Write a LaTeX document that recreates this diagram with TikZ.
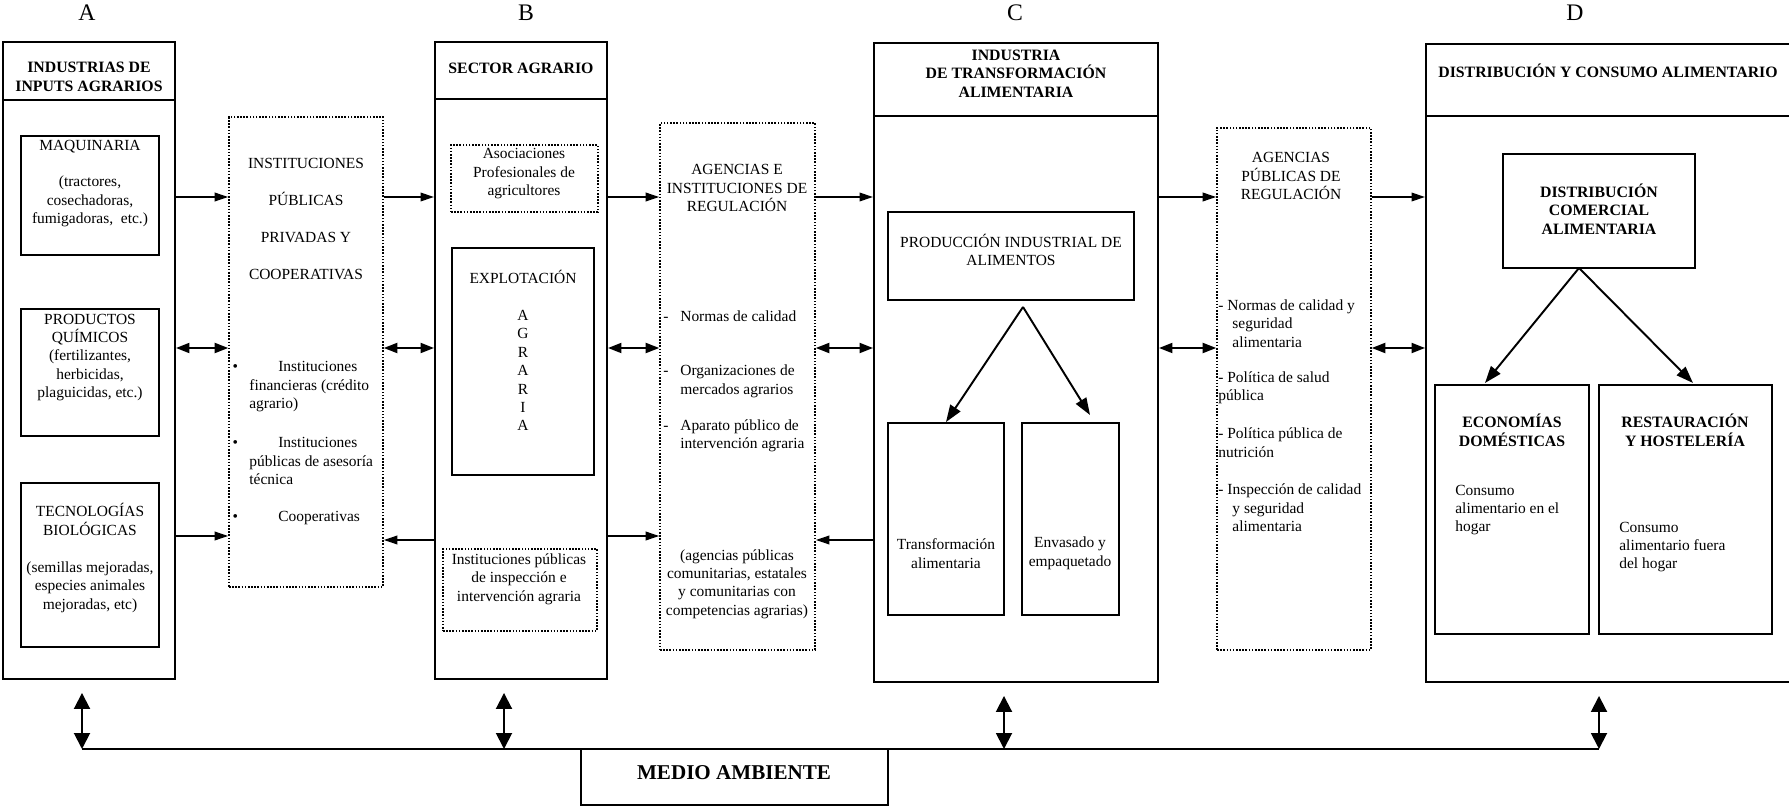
\documentclass[tikz,border=0pt]{standalone}
\usepackage{fontspec}
\setmainfont{Liberation Serif}
\usepackage{tikz}
\usetikzlibrary{positioning}
\usetikzlibrary{arrows.meta}
\usetikzlibrary{fit}
\tikzset{%
    box/.style={draw, line width=1.1pt, inner sep=0pt, fit={#1}},
    dotbox/.style={draw, line width=0.9pt, dash pattern=on 0.9pt off 0.9pt, inner sep=0pt, fit={#1}},
    txt/.style={align=center, inner sep=0pt, font=\fontsize{8.8}{10.5}\selectfont},
    ltxt/.style={align=left, anchor=west, inner sep=0pt, font=\fontsize{8.8}{10.5}\selectfont},
    head/.style={align=center, inner sep=0pt, font=\fontsize{9}{10.6}\selectfont\bfseries},
    col/.style={inner sep=0pt, font=\fontsize{13.5}{16}\selectfont},
    sep/.style={draw, line width=1.1pt},
    arrow/.style={draw, line width=1.1pt, -{Triangle[length=0.27cm, width=0.17cm]}},
    dblarrow/.style={draw, line width=1.1pt, {Triangle[length=0.27cm, width=0.2cm]}-{Triangle[length=0.27cm, width=0.2cm]}},
    vdblarrow/.style={draw, line width=1.1pt, shorten <=0.26cm, {Triangle[length=0.32cm, width=0.32cm]}-{Triangle[length=0.32cm, width=0.32cm]}},
    splitarrow/.style={draw, line width=1.1pt, -{Triangle[length=0.34cm, width=0.24cm]}}
}

\begin{document}
\begin{tikzpicture}[x=0.02cm, y=-0.02cm]
	\useasboundingbox (0,0) rectangle (1789,807);

	% column letters
	\node[col] (labA) at (87,13)   {A};
	\node[col] (labB) at (526,13)  {B};
	\node[col] (labC) at (1015,13) {C};
	\node[col] (labD) at (1575,13) {D};

	% A: industrias de inputs
	\node[box={(3,42) (175,679)}]    (inpA) {};
	\path[sep] (inpA.west |- 0,100) -- (inpA.east |- 0,100);
	\node[head] (inpT) at (89,77) {INDUSTRIAS DE\\INPUTS AGRARIOS};
	\node[box={(21,136) (159,255)}]  (maq)  {};
	\node[txt]  (maqT) at (90,183.5) {MAQUINARIA\\[10.5pt](tractores,\\cosechadoras,\\fumigadoras,\ \ etc.)};
	\node[box={(21,309) (159,436)}]  (quim) {};
	\node[txt]  (quimT) at (90,357.5) {PRODUCTOS\\QUÍMICOS\\(fertilizantes,\\herbicidas,\\plaguicidas, etc.)};
	\node[box={(21,483) (159,647)}]  (tecb) {};
	\node[txt]  (tecbT) at (90,558) {TECNOLOGÍAS\\BIOLÓGICAS\\[10.5pt](semillas mejoradas,\\especies animales\\mejoradas, etc)};

	% instituciones
	\node[dotbox={(229,117) (383,587)}] (instA) {};
	\node[txt]  (instT) at (306,219) {INSTITUCIONES\\[10.5pt]PÚBLICAS\\[10.5pt]PRIVADAS Y\\[10.5pt]COOPERATIVAS};
	\node[ltxt] (instF) at (249,387) {\leavevmode\llap{•\hspace{6.5pt}}\hspace*{16.5pt}Instituciones\\financieras (crédito\\agrario)};
	\node[ltxt] (instP) at (249,461) {\leavevmode\llap{•\hspace{6.5pt}}\hspace*{16.5pt}Instituciones\\públicas de asesoría\\técnica};
	\node[ltxt] (instC) at (249,518) {\leavevmode\llap{•\hspace{6.5pt}}\hspace*{16.5pt}Cooperativas};

	% B: sector agrario
	\node[box={(435,42) (607,679)}]  (agrB) {};
	\path[sep] (agrB.west |- 0,99) -- (agrB.east |- 0,99);
	\node[head] (agrT) at (521,68) {SECTOR AGRARIO};
	\node[dotbox={(451,145) (598,212)}] (asoc) {};
	\node[txt]  (asocT) at (524,174) {Asociaciones\\Profesionales de\\agricultores};
	\node[box={(452,248) (594,475)}] (expl) {};
	\node[txt]  (explT) at (523,350.5) {EXPLOTACIÓN\\[10.5pt]A\\G\\R\\A\\R\\I\\A};
	\node[dotbox={(443,549) (597,631)}] (insp) {};
	\node[txt]  (inspT) at (519,579) {Instituciones públicas\\de inspección e\\intervención agraria};

	% agencias e instituciones de regulacion
	\node[dotbox={(660,123) (815,650)}] (regB) {};
	\node[txt]  (regBT) at (737,188) {AGENCIAS E\\INSTITUCIONES DE\\REGULACIÓN};
	\node[ltxt] (regBN) at (680,316)   {\leavevmode\llap{-\hspace{6.8pt}}Normas de calidad};
	\node[ltxt] (regBO) at (680,381.5) {\leavevmode\llap{-\hspace{6.8pt}}Organizaciones de\\mercados agrarios};
	\node[ltxt] (regBA) at (680,436)   {\leavevmode\llap{-\hspace{6.8pt}}Aparato público de\\intervención agraria};
	\node[txt]  (regBC) at (737,584) {(agencias públicas\\comunitarias, estatales\\y comunitarias con\\competencias agrarias)};

	% C: industria de transformacion
	\node[box={(874,43) (1158,682)}] (indC) {};
	\path[sep] (indC.west |- 0,116) -- (indC.east |- 0,116);
	\node[head] (indT) at (1016,73.5) {INDUSTRIA\\DE TRANSFORMACIÓN\\ALIMENTARIA};
	\node[box={(888,212) (1134,300)}]  (prod) {};
	\node[txt]  (prodT) at (1011,250) {PRODUCCIÓN INDUSTRIAL DE\\ALIMENTOS};
	\node[box={(888,423) (1004,615)}]  (trans) {};
	\node[txt]  (transT) at (946,553.5) {Transformación\\alimentaria};
	\node[box={(1022,423) (1119,615)}] (envs) {};
	\node[txt]  (envsT) at (1070,553.5) {Envasado y\\empaquetado};
	\coordinate (apexC) at (1023,307);
	\coordinate (tipE)  at (1090,415);

	% agencias publicas de regulacion
	\node[dotbox={(1217,128) (1371,650)}] (regC) {};
	\node[txt]  (regCT) at (1291,176) {AGENCIAS\\PÚBLICAS DE\\REGULACIÓN};
	\node[ltxt] (regCN) at (1218,323.5) {- Normas de calidad y\\\hspace*{8pt}seguridad\\\hspace*{8pt}alimentaria};
	\node[ltxt] (regCS) at (1218,387.5) {- Política de salud\\pública};
	\node[ltxt] (regCP) at (1218,442.5) {- Política pública de\\nutrición};
	\node[ltxt] (regCI) at (1218,508)   {- Inspección de calidad\\\hspace*{8pt}y seguridad\\\hspace*{8pt}alimentaria};

	% D: distribucion y consumo
	\node[box={(1426,44) (1795,682)}] (dstD) {};
	\path[sep] (dstD.west |- 0,116) -- (dstD.east |- 0,116);
	\node[head] (dstT) at (1608,71) {DISTRIBUCIÓN Y CONSUMO ALIMENTARIO};
	\node[box={(1503,154) (1695,268)}] (dcom) {};
	\node[head] (dcomT) at (1599,209) {DISTRIBUCIÓN\\COMERCIAL\\ALIMENTARIA};
	\node[box={(1435,385) (1589,634)}] (econ) {};
	\node[head] (econT) at (1512,430) {ECONOMÍAS\\DOMÉSTICAS};
	\node[ltxt] (econC) at (1455,510) {Consumo\\alimentario en el\\hogar};
	\node[box={(1599,385) (1772,634)}] (rest) {};
	\node[head] (restT) at (1685,430) {RESTAURACIÓN\\Y HOSTELERÍA};
	\node[ltxt] (restC) at (1619,547) {Consumo\\alimentario fuera\\del hogar};
	\coordinate (apexD) at (1579,268);
	\coordinate (tipEc) at (1485,383);
	\coordinate (tipR)  at (1693,383);

	% medio ambiente
	\node[box={(581,749) (888,805)}] (env) {};
	\node[head, font=\fontsize{12}{14}\selectfont\bfseries] (envT) at (734,773) {MEDIO AMBIENTE};
	\coordinate (mA) at (82,749);
	\coordinate (mB) at (504,749);
	\coordinate (mC) at (1004,749);
	\coordinate (mD) at (1599,749);

	% arrow rows
	\coordinate (rowT) at (0,197);
	\coordinate (rowM) at (0,348);
	\coordinate (rowR) at (0,536);
	\coordinate (rowL) at (0,540);

	\path[arrow] (inpA.east |- rowT)  -- (instA.west |- rowT);
	\path[arrow] (instA.east |- rowT) -- (agrB.west |- rowT);
	\path[arrow] (agrB.east |- rowT)  -- (regB.west |- rowT);
	\path[arrow] (regB.east |- rowT)  -- (indC.west |- rowT);
	\path[arrow] (indC.east |- rowT)  -- (regC.west |- rowT);
	\path[arrow] (regC.east |- rowT)  -- (dstD.west |- rowT);

	\path[dblarrow] (inpA.east |- rowM)  -- (instA.west |- rowM);
	\path[dblarrow] (instA.east |- rowM) -- (agrB.west |- rowM);
	\path[dblarrow] (agrB.east |- rowM)  -- (regB.west |- rowM);
	\path[dblarrow] (regB.east |- rowM)  -- (indC.west |- rowM);
	\path[dblarrow] (indC.east |- rowM)  -- (regC.west |- rowM);
	\path[dblarrow] (regC.east |- rowM)  -- (dstD.west |- rowM);

	\path[arrow] (inpA.east |- rowR) -- (instA.west |- rowR);
	\path[arrow] (agrB.west |- rowL) -- (instA.east |- rowL);
	\path[arrow] (agrB.east |- rowR) -- (regB.west |- rowR);
	\path[arrow] (indC.west |- rowL) -- (regB.east |- rowL);

	% inner splits
	\path[splitarrow] (apexC) -- (trans.north);
	\path[splitarrow] (apexC) -- (tipE);
	\path[splitarrow] (apexD) -- (tipEc);
	\path[splitarrow] (apexD) -- (tipR);

	% link to the environment
	\path[sep] (mA) -- (mD);
	\path[vdblarrow] (mA |- inpA.south) -- (mA);
	\path[vdblarrow] (mB |- agrB.south) -- (mB);
	\path[vdblarrow] (mC |- indC.south) -- (mC);
	\path[vdblarrow] (mD |- dstD.south) -- (mD);
\end{tikzpicture}
\end{document}
